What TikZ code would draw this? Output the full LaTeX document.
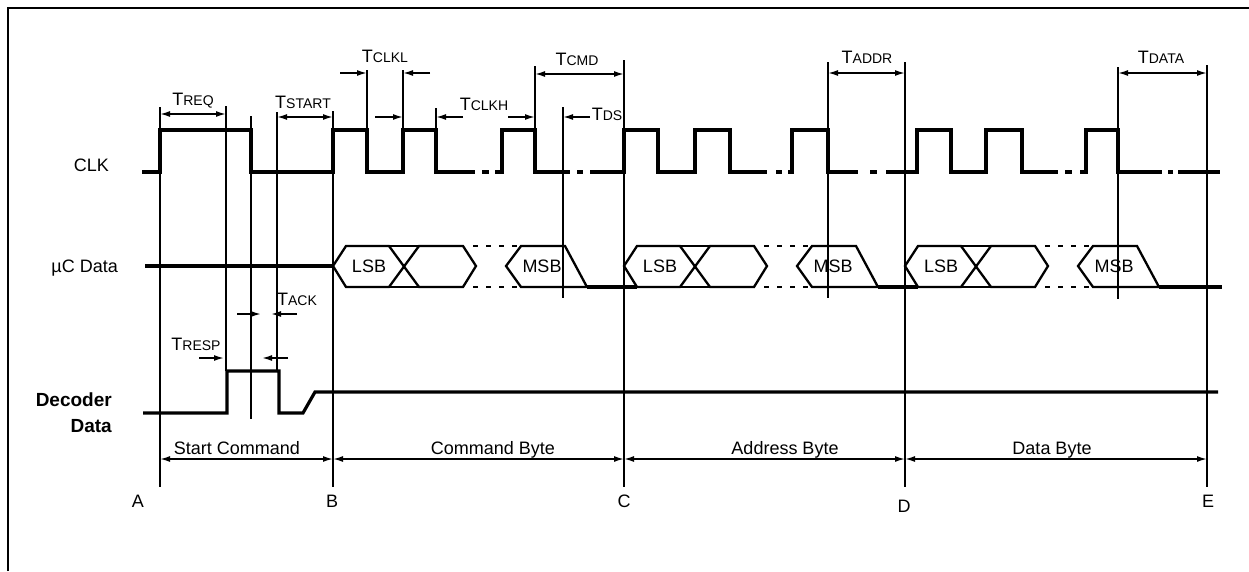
\documentclass[tikz,border=0pt]{standalone}
\usepackage{fontspec}
\setmainfont{Liberation Sans}
\usetikzlibrary{arrows.meta}

% timing parameter name: big T, small caps after it
\newcommand\tname[1]{T{\fontsize{14}{14}\selectfont #1}}

% one byte on the bus: LSB, crossing, dotted part, MSB
\newcommand\databyte[2]{%
  \begin{scope}[xshift=#1pt]
    \draw[bus] (13,246) -- (0,266) -- (13,287) -- (56,287) -- (86,246) -- (130,246)
      -- (143,266) -- (130,287) -- (86,287) -- (56,246) -- cycle;
    \draw[bus] (56,246) -- (86,246) (56,287) -- (86,287);
    \draw[bus,dotbus] (140,246) -- (186,246) (140,287) -- (186,287);
    \draw[bus] (232,246) -- (188,246) -- (173,266) -- (188,287) -- (254,287) -- cycle;
    \node[lbl] (lsb#2) at (36,266) {LSB};
    \node[lbl] (msb#2) at (209,266) {MSB};
  \end{scope}}

\begin{document}
\begin{tikzpicture}[x=1pt, y=-1pt, >={Latex[length=10pt,width=6pt]},
    lbl/.style={inner sep=0pt, font=\fontsize{18}{18}\selectfont},
    wave/.style={line width=3.2pt},
    bus/.style={line width=2.3pt},
    dotbus/.style={dash pattern=on 5pt off 8pt},
    guide/.style={line width=1.6pt},
    dim/.style={line width=1.6pt}]

    \useasboundingbox (0,0) rectangle (1249,571);

    % Frame
    \draw[line width=2.5pt] (8,571) -- (8,8) -- (1249,8);

    % Signal names
    \node[lbl, anchor=base east] (nclk) at (109,171) {CLK};
    \node[lbl, anchor=base east] (nuc) at (118,272) {µC Data};
    \node[lbl, anchor=east, align=right, font=\bfseries\fontsize{19}{26}\selectfont]
      (ndec) at (112,413) {Decoder\\Data};

    % Clock
    \draw[wave] (142,172) -- (160,172) -- (160,130) -- (251,130) -- (251,172) -- (333,172)
      -- (333,130) -- (367,130) -- (367,172) -- (403,172) -- (403,130) -- (436,130)
      -- (436,172) -- (475,172)
      (482,172) -- (489,172)
      (495,172) -- (502,172) -- (502,130) -- (535,130) -- (535,172) -- (570,172)
      (577,172) -- (583,172)
      (590,172) -- (624,172) -- (624,130) -- (658,130) -- (658,172) -- (695,172)
      -- (695,130) -- (730,130) -- (730,172) -- (767,172)
      (776,172) -- (782,172)
      (788,172) -- (792,172) -- (792,130) -- (828,130) -- (828,172) -- (858,172)
      (870,172) -- (877,172)
      (886,172) -- (917,172) -- (917,130) -- (951,130) -- (951,172) -- (986,172)
      -- (986,130) -- (1022,130) -- (1022,172) -- (1058,172)
      (1065,172) -- (1072,172)
      (1080,172) -- (1086,172) -- (1086,130) -- (1118,130) -- (1118,172) -- (1162,172)
      (1168,172) -- (1173,172)
      (1178,172) -- (1220,172);

    % Data bus
    \draw[wave] (145,266) -- (333,266);
    \databyte{333}{1}
    \databyte{624}{2}
    \databyte{905}{3}
    \draw[wave] (587,287) -- (637,287) (878,287) -- (918,287) (1159,287) -- (1222,287);

    % Decoder data
    \draw[wave] (143,413) -- (227,413) -- (227,371) -- (279,371) -- (279,413)
      -- (303,413) -- (315,392) -- (1218,392);

    % Marker lines
    \coordinate (A) at (160,487);
    \coordinate (B) at (333,487);
    \coordinate (C) at (624,487);
    \coordinate (D) at (905,487);
    \coordinate (E) at (1207,487);
    \draw[guide] (160,107) -- (A);
    \draw[guide] (333,111) -- (B);
    \draw[guide] (624,60) -- (C);
    \draw[guide] (905,62) -- (D);
    \draw[guide] (1207,65) -- (E);
    \draw[guide] (226,106) -- (226,371);
    \draw[guide] (251,116) -- (251,419);
    \draw[guide] (277,112) -- (277,371);
    \draw[guide] (367,70) -- (367,130) (403,70) -- (403,130) (436,108) -- (436,130);
    \draw[guide] (535,66) -- (535,130);
    \draw[guide] (563,107) -- (563,298);
    \draw[guide] (828,62) -- (828,298);
    \draw[guide] (1118,67) -- (1118,299);

    % Timing arrows
    \draw[dim,<->] (160,114) -- (226,114);
    \node[lbl, anchor=base] (treq) at (193,105) {\tname{REQ}};
    \draw[dim,<->] (277,117) -- (333,117);
    \node[lbl, anchor=base] (tstart) at (303,108) {\tname{START}};
    \draw[dim,->] (340,73) -- (367,73);
    \draw[dim,->] (430,73) -- (403,73);
    \node[lbl, anchor=base] (tclkl) at (385,62) {\tname{CLKL}};
    \draw[dim,->] (375,117) -- (403,117);
    \draw[dim,->] (463,117) -- (436,117);
    \node[lbl, anchor=base] (tclkh) at (484,110) {\tname{CLKH}};
    \draw[dim,->] (508,117) -- (535,117);
    \draw[dim,->] (590,117) -- (563,117);
    \node[lbl, anchor=base] (tds) at (607,120) {\tname{DS}};
    \draw[dim,<->] (535,74) -- (624,74);
    \node[lbl, anchor=base] (tcmd) at (577,65) {\tname{CMD}};
    \draw[dim,<->] (828,73) -- (905,73);
    \node[lbl, anchor=base] (taddr) at (867,63) {\tname{ADDR}};
    \draw[dim,<->] (1118,73) -- (1207,73);
    \node[lbl, anchor=base] (tdata) at (1161,63) {\tname{DATA}};
    \draw[dim,->] (237,314) -- (261,314);
    \draw[dim,->] (297,314) -- (271,314);
    \node[lbl, anchor=base] (tack) at (297,305) {\tname{ACK}};
    \draw[dim,->] (199,358) -- (224,358);
    \draw[dim,->] (288,358) -- (262,358);
    \node[lbl, anchor=base] (tresp) at (196,350) {\tname{RESP}};

    % Byte spans
    \draw[dim,<->] (160,459) -- (333,459);
    \draw[dim,<->] (333,459) -- (624,459);
    \draw[dim,<->] (624,459) -- (905,459);
    \draw[dim,<->] (905,459) -- (1207,459);
    \node[lbl, anchor=base] (sstart) at (237,454) {Start Command};
    \node[lbl, anchor=base] (scmd) at (493,454) {Command Byte};
    \node[lbl, anchor=base] (saddr) at (785,454) {Address Byte};
    \node[lbl, anchor=base] (sdata) at (1052,454) {Data Byte};

    % Points
    \node[lbl, anchor=base] (la) at (138,507) {A};
    \node[lbl, anchor=base] (lb) at (332,507) {B};
    \node[lbl, anchor=base] (lc) at (624,507) {C};
    \node[lbl, anchor=base] (ld) at (904,512) {D};
    \node[lbl, anchor=base] (le) at (1208,507) {E};
\end{tikzpicture}
\end{document}
